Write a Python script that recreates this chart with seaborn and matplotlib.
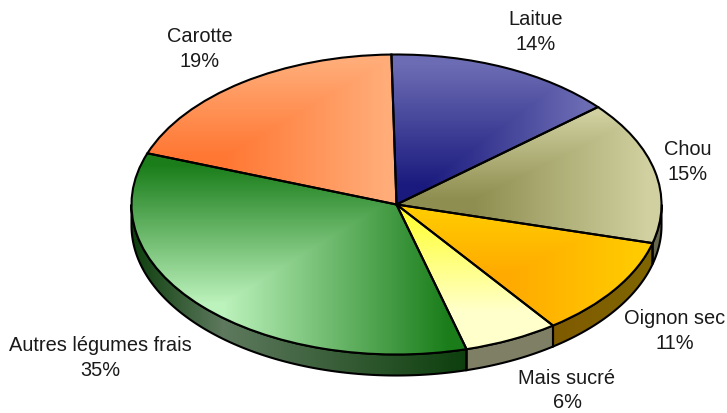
import numpy as np
import matplotlib
matplotlib.use("Agg")
import matplotlib.pyplot as plt
import seaborn as sns

sns.set_theme(style="white")
plt.rcParams['font.family'] = ['Liberation Sans', 'DejaVu Sans']

# donnees (sens horaire, a partir de Laitue)
legumes = ['Laitue', 'Chou', 'Oignon sec', 'Mais sucré', 'Autres légumes frais', 'Carotte']
parts = [14.05, 15.4, 10.8, 5.8, 34.8, 19.15]
parts_lues = [14, 15, 11, 6, 35, 19]

# couleurs : point central du degrade, puis bord
centres = ['#1a1a7e', '#8e8e50', '#ffaa00', '#ffffcc', '#bcf2bc', '#ff7733']
bords = ['#6c6cb4', '#d0d0a0', '#ffcc00', '#ffff33', '#1a7d1a', '#ffac78']
bords_flanc = ['#6c6cb4', '#d0d0a0', '#ffcc00', '#ffffcc', '#1a7d1a', '#ffac78']
# position du point central dans la boite du secteur (x, y depuis le haut)
foyers = [(.155, .875), (.29, .68), (.435, .587), (1.0, .75), (.275, .747), (.31, .68)]
# position des etiquettes en pixels
pos_labels = [(536, 32), (688, 162.5), (675, 331), (567, 390.5), (100, 358), (200, 49)]

W, H = 727, 413
CX, CY, RX, RY = 396.5, 204.5, 265, 150
EPAIS = 21 / RY


def px(x, y):
    return (x - CX) / RX, (CY - y) / RY


fig = plt.figure(figsize=(W / 100, H / 100), dpi=100)
ax = fig.add_axes([0, 0, 1, 1])
wedges, _ = ax.pie(parts, startangle=91.1, counterclock=False, radius=1,
                   wedgeprops=dict(edgecolor='black', linewidth=1.5, zorder=5))
x0, y1 = px(0, 0)
x1, y0 = px(W, H)
gx, gy = np.meshgrid(np.linspace(x0, x1, W), np.linspace(y1, y0, H))
extent = (x0, x1, y0, y1)

for w, c, b, bf, f in zip(wedges, centres, bords, bords_flanc, foyers):
    ang = np.radians(np.linspace(w.theta1, w.theta2, 200))
    xs = np.r_[0, np.cos(ang)]
    ys = np.r_[0, np.sin(ang)]
    xa, xb, ya, yb = xs.min(), xs.max(), ys.min(), ys.max()
    sx = xa + f[0] * (xb - xa)
    sy = yb - f[1] * (yb - ya)

    # degrade du dessus : seulement vers la droite et vers le haut
    tx = np.clip((gx - sx) / (xb - sx + 1e-9), 0, 1)
    ty = np.clip((gy - sy) / (yb - sy), 0, 1)
    cmap = sns.blend_palette([c, b], 256, as_cmap=True)
    im = ax.imshow(np.clip(np.maximum(tx, ty) * 1.08, 0, 1), cmap=cmap, vmin=0, vmax=1,
                   extent=extent, aspect='auto', interpolation='bilinear', zorder=4)
    im.set_clip_path(w)
    w.set_facecolor('none')

    # flanc du camembert, meme teinte assombrie
    t1, t2 = max(w.theta1, -180), min(w.theta2, 0)
    if t2 > t1:
        arc = np.radians(np.linspace(t1, t2, 120))
        mur = ax.fill(np.r_[np.cos(arc), np.cos(arc)[::-1]],
                      np.r_[np.sin(arc), np.sin(arc)[::-1] - EPAIS],
                      facecolor='none', edgecolor='black', linewidth=1.5, zorder=3)[0]
        sombre = sns.blend_palette([np.array(matplotlib.colors.to_rgb(c)) * .5,
                                    np.array(matplotlib.colors.to_rgb(bf)) * .5], 256, as_cmap=True)
        tm = np.where(gx > sx, (gx - sx) / (xb - sx + 1e-9), (sx - gx) / (sx - xa))
        im2 = ax.imshow(np.clip(tm, 0, 1), cmap=sombre, vmin=0, vmax=1, extent=extent,
                        aspect='auto', interpolation='bilinear', zorder=2)
        im2.set_clip_path(mur)

for nom, val, p in zip(legumes, parts_lues, pos_labels):
    lx, ly = px(*p)
    ax.text(lx, ly, f"{nom}\n{val}%", ha='center', va='center', fontsize=14.4,
            color='#1a1a1a', linespacing=1.4, zorder=6)

ax.set_xlim(x0, x1)
ax.set_ylim(y0, y1)
ax.set_aspect('auto')
ax.axis('off')
fig.savefig('out.png', dpi=100, facecolor='white')
